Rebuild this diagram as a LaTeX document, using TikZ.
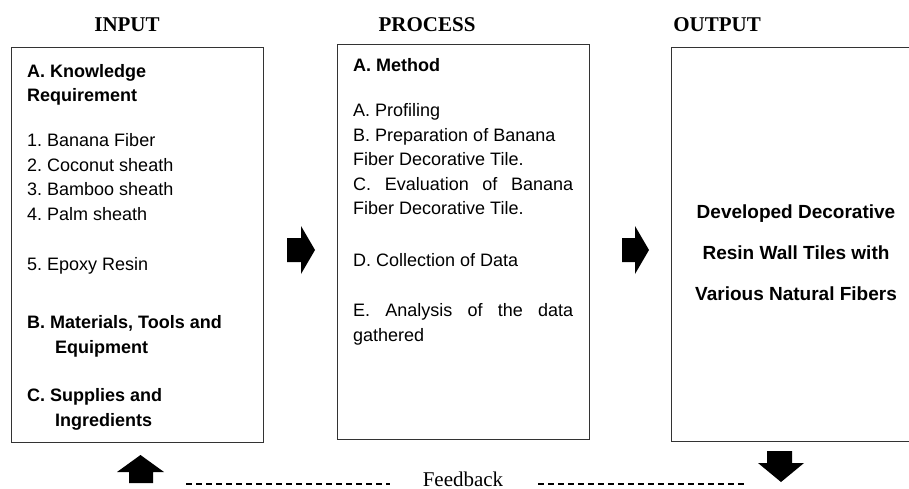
\documentclass[tikz,border=0pt]{standalone}
\usepackage{fontspec}
\setmainfont{Liberation Serif}
\setsansfont{Liberation Sans}
\usetikzlibrary{positioning}
\frenchspacing

\begin{document}
\begin{tikzpicture}[x=1pt, y=-1pt, frame/.style={draw=black!80, line width=1.1pt, inner sep=0pt, anchor=north west}, head/.style={font=\bfseries\fontsize{21}{24}\selectfont, inner sep=0pt, anchor=base}, body/.style={font=\sffamily\fontsize{18}{24.5}\selectfont, align=left, inner sep=0pt, anchor=north west}, blk/.style={fill=black}, fbdash/.style={line width=2.2pt, dash pattern=on 6pt off 4pt}]
\useasboundingbox (0,0) rectangle (909,488);
\node[frame, minimum width=252pt, minimum height=395pt] (inbox) at (11,47) {};
\node[frame, minimum width=252pt, minimum height=395pt] (procbox) at (337,44) {};
\node[frame, minimum width=260pt, minimum height=394pt] (outbox) at (671,47) {};
\node[head] (intitle) at (127,31.7) {INPUT};
\node[head] (proctitle) at (427,31.7) {PROCESS};
\node[head] (outtitle) at (717,31.7) {OUTPUT};
\node[body] (intext) at (27,64) {\textbf{A. Knowledge}\\\textbf{Requirement}\\[20.5pt]1. Banana Fiber\\2. Coconut sheath\\3. Bamboo sheath\\4. Palm sheath\\[25.5pt]5. Epoxy Resin\\[34pt]\textbf{B. Materials, Tools and}\\\hspace*{28pt}\textbf{Equipment}\\[24pt]\textbf{C. Supplies and}\\\hspace*{28pt}\textbf{Ingredients}};
\node[body] (proctext) at (353,58.6) {\textbf{A. Method}\\[20.5pt]A. Profiling\\B. Preparation of Banana\\Fiber Decorative Tile.\\\makebox[220pt][s]{C. Evaluation of Banana}\\Fiber Decorative Tile.\\[27.5pt]D. Collection of Data\\[25.5pt]\makebox[220pt][s]{E. Analysis of the data}\\gathered};
\node[body, align=center, anchor=north, font=\sffamily\bfseries\fontsize{19}{41}\selectfont] (outtext) at (796,204.5) {Developed Decorative\\Resin Wall Tiles with\\Various Natural Fibers};
% block arrows
\fill[blk] (287,238) -- (301,238) -- (301,226) -- (315,250) -- (301,274) -- (301,262) -- (287,262) -- cycle;
\fill[blk] (622,238) -- (635,238) -- (635,226) -- (649,250) -- (635,274) -- (635,262) -- (622,262) -- cycle;
\fill[blk] (129,483) -- (129,472) -- (117,472) -- (140.5,455) -- (164,472) -- (153,472) -- (153,483) -- cycle;
\fill[blk] (767,451) -- (792,451) -- (792,463) -- (804,463) -- (781,482) -- (758,463) -- (767,463) -- cycle;
% feedback
\node[font=\fontsize{21}{24}\selectfont, inner sep=0pt, anchor=base] (fb) at (463,486) {Feedback};
\coordinate (fbA) at (186,484);
\coordinate (fbB) at (390,484);
\coordinate (fbC) at (538,484);
\coordinate (fbD) at (745,484);
\draw[fbdash] (fbA) -- (fbB);
\draw[fbdash] (fbC) -- (fbD);
\end{tikzpicture}
\end{document}
